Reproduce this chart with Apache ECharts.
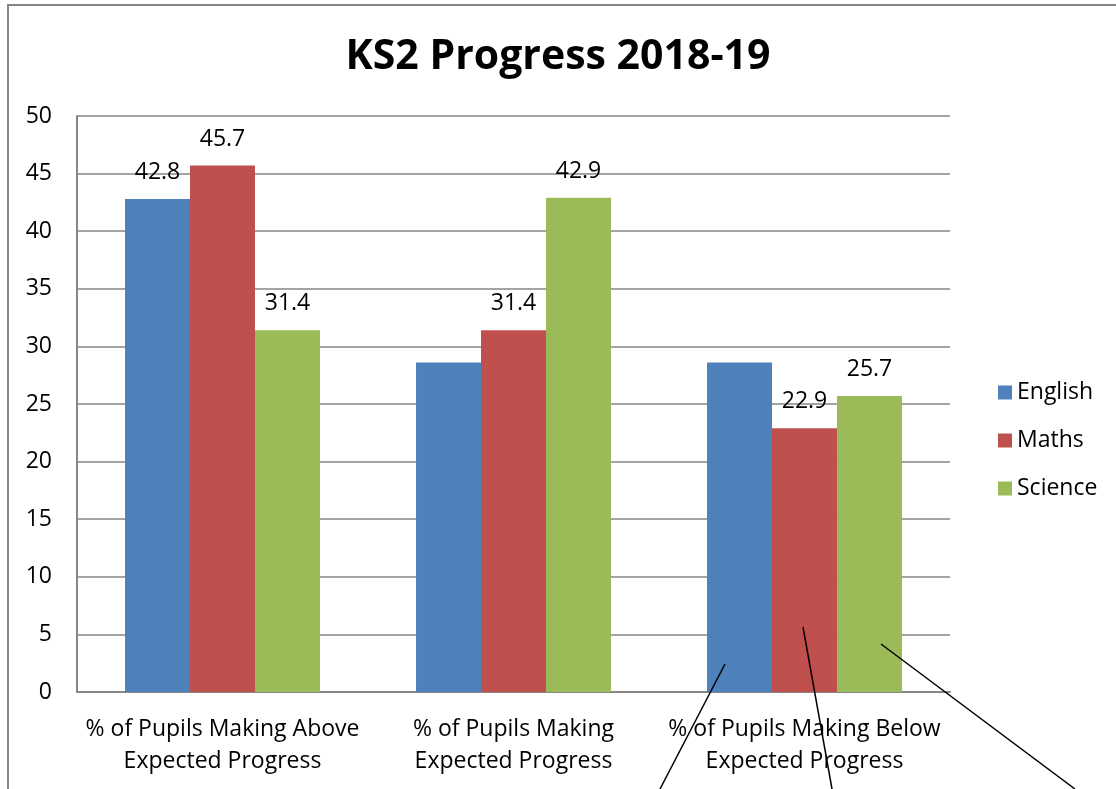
<!DOCTYPE html>
<html><head><meta charset="utf-8">
<script src="https://cdn.jsdelivr.net/npm/echarts@6/dist/echarts.min.js"></script>
<style>html,body{margin:0;padding:0;background:#fff}#c{width:1116px;height:789px}</style>
</head><body><div id="c"></div>
<script>
const categories = ['% of Pupils Making Above\nExpected Progress', '% of Pupils Making\nExpected Progress', '% of Pupils Making Below\nExpected Progress'];
const english = [42.8, 28.6, 28.6];
const maths = [45.7, 31.4, 22.9];
const science = [31.4, 42.9, 25.7];
const englishLabels = [true, false, false];
const mathsLabels = [true, true, true];
const scienceLabels = [true, true, true];

const FONT = 'Open Sans';
const FS = 23;
function mk(vals, flags) {
  return vals.map((v, i) => ({ value: v, label: { show: flags[i] } }));
}
const chart = echarts.init(document.getElementById('c'), null, { renderer: 'canvas' });
const labelCfg = { show: true, position: 'top', distance: 15, color: '#000', fontSize: FS, fontFamily: FONT };
chart.setOption({
  animation: false,
  backgroundColor: '#fff',
  title: { text: 'KS2 Progress 2018-19', left: 'center', top: 32, textStyle: { fontFamily: FONT, fontWeight: 'bold', fontSize: 41, color: '#000' } },
  legend: {
    orient: 'vertical', left: 993, top: 376, itemWidth: 14, itemHeight: 14, itemGap: 25,
    icon: 'rect', textStyle: { fontFamily: FONT, fontSize: FS, color: '#000' },
    data: ['English', 'Maths', 'Science']
  },
  grid: { left: 77, right: 166, top: 116, bottom: 97, containLabel: false },
  xAxis: {
    type: 'category', data: categories,
    axisLine: { lineStyle: { color: '#868686', width: 2 } },
    axisTick: { show: false },
    axisLabel: { fontFamily: FONT, fontSize: FS, color: '#000', lineHeight: 32, margin: 21, interval: 0 }
  },
  yAxis: {
    type: 'value', min: 0, max: 50, interval: 5,
    axisLine: { show: true, lineStyle: { color: '#868686', width: 2 } },
    axisTick: { show: false },
    splitLine: { lineStyle: { color: '#868686', width: 1.5 } },
    axisLabel: { fontFamily: FONT, fontSize: FS, color: '#000', margin: 25 }
  },
  series: [
    { name: 'English', type: 'bar', data: mk(english, englishLabels), itemStyle: { color: '#4F81BD' }, label: labelCfg, barGap: '0%', barCategoryGap: '33%' },
    { name: 'Maths', type: 'bar', data: mk(maths, mathsLabels), itemStyle: { color: '#C0504D' }, label: labelCfg, barGap: '0%', barCategoryGap: '33%' },
    { name: 'Science', type: 'bar', data: mk(science, scienceLabels), itemStyle: { color: '#9BBB59' }, label: labelCfg, barGap: '0%', barCategoryGap: '33%' }
  ],
  graphic: [
    { type: 'rect', shape: { x: 8, y: 5, width: 1300, height: 1000 }, style: { fill: null, stroke: '#868686', lineWidth: 2 }, silent: true },
    { type: 'line', shape: { x1: 725, y1: 664, x2: 660, y2: 789 }, style: { stroke: '#000', lineWidth: 1.5 }, z: 100 },
    { type: 'line', shape: { x1: 803, y1: 627, x2: 832, y2: 789 }, style: { stroke: '#000', lineWidth: 1.5 }, z: 100 },
    { type: 'line', shape: { x1: 881, y1: 644, x2: 1075, y2: 789 }, style: { stroke: '#000', lineWidth: 1.5 }, z: 100 }
  ]
});
</script></body></html>
